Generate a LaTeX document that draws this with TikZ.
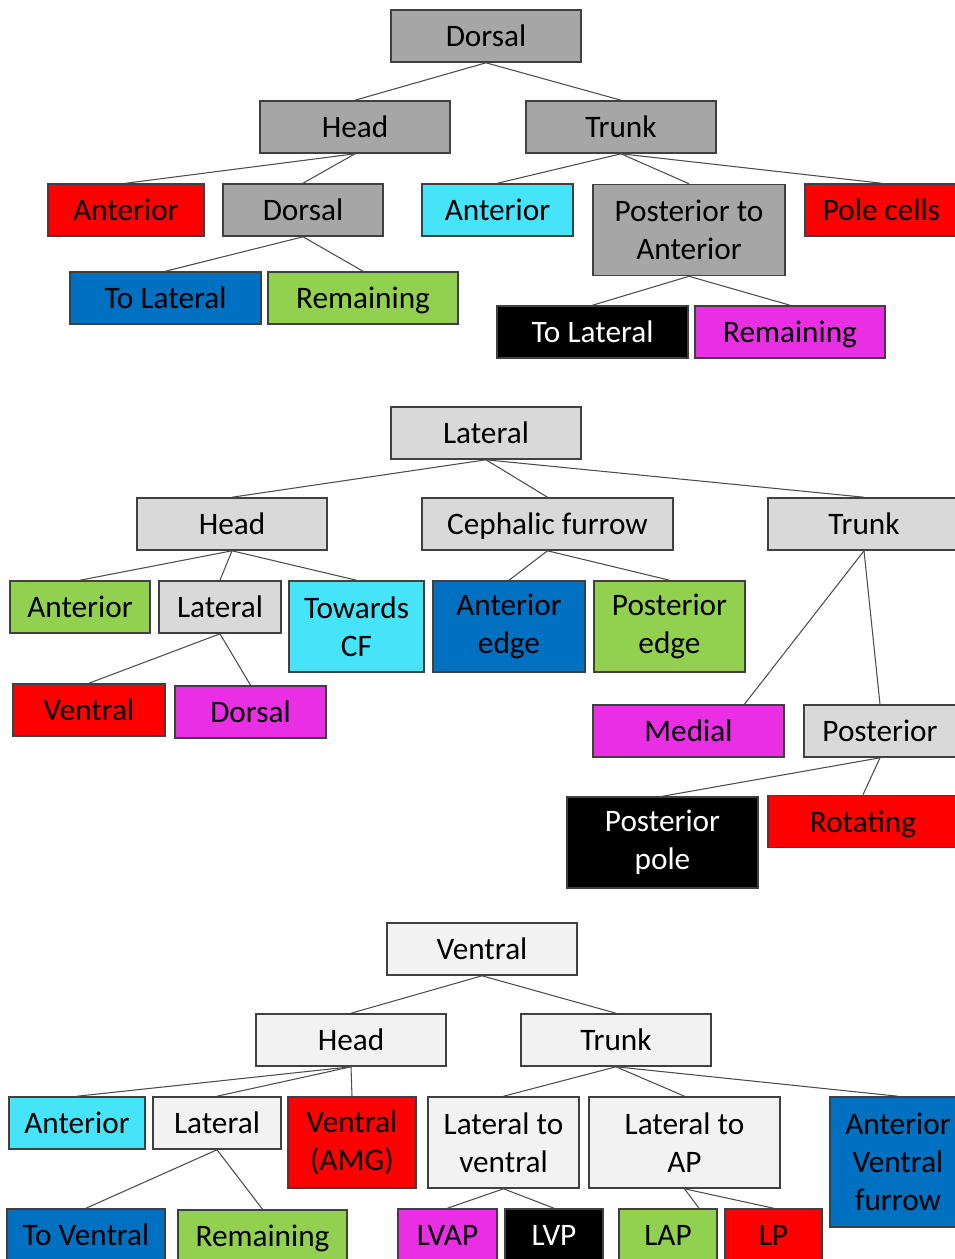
\documentclass[tikz,border=0pt]{standalone}
\usepackage{fontspec}
\setmainfont{Carlito}
\usepackage{xcolor}
\usepackage{tikz}
\usetikzlibrary{positioning}

\definecolor{dgrayc}{HTML}{A6A6A6}
\definecolor{lgrayc}{HTML}{D9D9D9}
\definecolor{wgrayc}{HTML}{F2F2F2}
\definecolor{redc}{HTML}{FF0000}
\definecolor{bluec}{HTML}{0070C0}
\definecolor{greenc}{HTML}{92D050}
\definecolor{cyanc}{HTML}{45E4F8}
\definecolor{pinkc}{HTML}{EA2EE4}

\begin{document}
\begin{tikzpicture}[
    x=0.02cm, y=-0.02cm,
    every node/.style={font=\fontsize{17.8}{21.8}\selectfont},
    box/.style={rectangle, draw=black!75, line width=0.9pt, minimum height=1.04cm, inner sep=2pt, text height=12pt, text depth=0pt, align=center},
    dgraybox/.style={box, fill=dgrayc},
    lgraybox/.style={box, fill=lgrayc},
    wgraybox/.style={box, fill=wgrayc},
    redbox/.style={box, fill=redc},
    bluebox/.style={box, fill=bluec},
    greenbox/.style={box, fill=greenc},
    cyanbox/.style={box, fill=cyanc},
    pinkbox/.style={box, fill=pinkc},
    darkbox/.style={box, fill=black, text=white},
    tall/.style={minimum height=1.82cm, text height={}, text depth={}},
    link/.style={draw=black!70, line width=0.6pt}
]
\clip (0,0) rectangle (955,1259);

% Dorsal tree
\node[dgraybox, minimum width=3.8cm] (dorsal) at (486,36) {Dorsal};
\node[dgraybox, minimum width=3.8cm] (dhead) at (355,127) {Head};
\node[dgraybox, minimum width=3.8cm] (dtrunk) at (621,127) {Trunk};
\node[redbox, minimum width=3.12cm] (dhant) at (126,210) {Anterior};
\node[dgraybox, minimum width=3.2cm] (dhdor) at (303,210) {Dorsal};
\node[bluebox, minimum width=3.82cm] (dhlat) at (165.5,298) {To Lateral};
\node[greenbox, minimum width=3.8cm] (dhrem) at (363,298) {Remaining};
\node[cyanbox, minimum width=3.02cm] (dtant) at (497.5,210) {Anterior};
\node[dgraybox, tall, minimum width=3.84cm] (dtpa) at (689,230) {Posterior to\\Anterior};
\node[redbox, minimum width=3.06cm] (dtpole) at (881.5,210) {Pole cells};
\node[darkbox, minimum width=3.82cm] (dtlat) at (592.5,332) {To Lateral};
\node[pinkbox, minimum width=3.8cm] (dtrem) at (790,332) {Remaining};

\draw[link] (dorsal.south) -- (dhead.north);
\draw[link] (dorsal.south) -- (dtrunk.north);
\draw[link] (dhead.south) -- (dhant.north);
\draw[link] (dhead.south) -- (dhdor.north);
\draw[link] (dhdor.south) -- (dhlat.north);
\draw[link] (dhdor.south) -- (dhrem.north);
\draw[link] (dtrunk.south) -- (dtant.north);
\draw[link] (dtrunk.south) -- (dtpa.north);
\draw[link] (dtrunk.south) -- (dtpole.north);
\draw[link] (dtpa.south) -- (dtlat.north);
\draw[link] (dtpa.south) -- (dtrem.north);

% Lateral tree
\node[lgraybox, minimum width=3.8cm] (lateral) at (486,433) {Lateral};
\node[lgraybox, minimum width=3.8cm] (lhead) at (232,524) {Head};
\node[lgraybox, minimum width=5.02cm] (lcf) at (547.5,524) {Cephalic furrow};
\node[lgraybox, minimum width=3.84cm] (ltrunk) at (864,524) {Trunk};
\node[greenbox, minimum width=2.8cm] (lhant) at (80,607) {Anterior};
\node[lgraybox, minimum width=2.44cm] (lhlat) at (220,607) {Lateral};
\node[cyanbox, tall, minimum width=2.7cm] (lhcf) at (356.5,626.5) {Towards\\CF};
\node[bluebox, tall, minimum width=3.04cm] (lcfant) at (509,626.5) {Anterior\\edge};
\node[greenbox, tall, minimum width=3.02cm] (lcfpos) at (669.5,626.5) {Posterior\\edge};
\node[redbox, minimum width=3.04cm] (lhven) at (89,710) {Ventral};
\node[pinkbox, minimum width=3.02cm] (lhdor) at (250.5,712) {Dorsal};
\node[pinkbox, minimum width=3.82cm] (ltmed) at (688.5,731) {Medial};
\node[lgraybox, minimum width=3.04cm] (ltpos) at (880,731) {Posterior};
\node[darkbox, tall, minimum width=3.82cm] (ltpole) at (662.5,842.5) {Posterior\\pole};
\node[redbox, minimum width=3.8cm] (ltrot) at (863,821.5) {Rotating};

\draw[link] (lateral.south) -- (lhead.north);
\draw[link] (lateral.south) -- (lcf.north);
\draw[link] (lateral.south) -- (ltrunk.north);
\draw[link] (lhead.south) -- (lhant.north);
\draw[link] (lhead.south) -- (lhlat.north);
\draw[link] (lhead.south) -- (lhcf.north);
\draw[link] (lhlat.south) -- (lhven.north);
\draw[link] (lhlat.south) -- (lhdor.north);
\draw[link] (lcf.south) -- (lcfant.north);
\draw[link] (lcf.south) -- (lcfpos.north);
\draw[link] (ltrunk.south) -- ([xshift=1.12cm]ltmed.north);
\draw[link] (ltrunk.south) -- (ltpos.north);
\draw[link] (ltpos.south) -- (ltpole.north);
\draw[link] (ltpos.south) -- (ltrot.north);

% Ventral tree
\node[wgraybox, minimum width=3.8cm] (ventral) at (482,949) {Ventral};
\node[wgraybox, minimum width=3.8cm] (vhead) at (351,1040) {Head};
\node[wgraybox, minimum width=3.8cm] (vtrunk) at (616,1040) {Trunk};
\node[cyanbox, minimum width=2.72cm] (vhant) at (77,1123) {Anterior};
\node[wgraybox, minimum width=2.56cm] (vhlat) at (217,1123) {Lateral};
\node[redbox, tall, minimum width=2.56cm] (vhamg) at (352,1142.5) {Ventral\\(AMG)};
\node[wgraybox, tall, minimum width=3.02cm] (vtlv) at (503.5,1142.5) {Lateral to\\ventral};
\node[wgraybox, tall, minimum width=3.82cm] (vtlap) at (684.5,1142.5) {Lateral to\\AP};
\node[bluebox, tall, minimum height=2.6cm, minimum width=2.72cm] (vtavf) at (898,1162) {Anterior\\Ventral\\furrow};
\node[bluebox, minimum width=3.16cm] (vhven) at (86,1235) {To Ventral};
\node[greenbox, minimum width=3.38cm] (vhrem) at (262.5,1236) {Remaining};
\node[pinkbox, minimum width=1.98cm] (lvap) at (447.5,1235) {LVAP};
\node[darkbox, minimum width=1.96cm] (lvp) at (554,1235) {LVP};
\node[greenbox, minimum width=1.96cm] (lap) at (668,1235) {LAP};
\node[redbox, minimum width=1.94cm] (lp) at (773.5,1235) {LP};

\draw[link] (ventral.south) -- (vhead.north);
\draw[link] (ventral.south) -- (vtrunk.north);
\draw[link] (vhead.south) -- (vhant.north);
\draw[link] (vhead.south) -- (vhlat.north);
\draw[link] (vhead.south) -- (vhamg.north);
\draw[link] (vhlat.south) -- (vhven.north);
\draw[link] (vhlat.south) -- (vhrem.north);
\draw[link] (vtrunk.south) -- (vtlv.north);
\draw[link] (vtrunk.south) -- (vtlap.north);
\draw[link] (vtrunk.south) -- (vtavf.north);
\draw[link] (vtlv.south) -- (lvap.north);
\draw[link] (vtlv.south) -- (lvp.north);
\draw[link] (vtlap.south) -- ([xshift=0.62cm]lap.north);
\draw[link] (vtlap.south) -- (lp.north);

\end{tikzpicture}
\end{document}
